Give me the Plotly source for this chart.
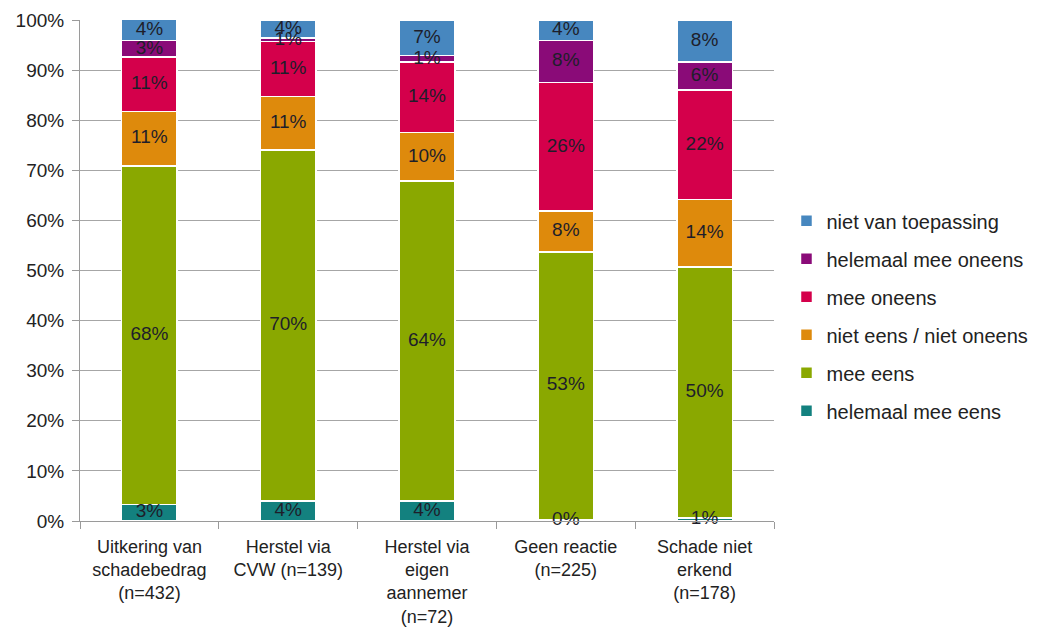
import plotly.graph_objects as go

categories = [
    "Uitkering van<br>schadebedrag<br>(n=432)",
    "Herstel via<br>CVW (n=139)",
    "Herstel via<br>eigen<br>aannemer<br>(n=72)",
    "Geen reactie<br>(n=225)",
    "Schade niet<br>erkend<br>(n=178)",
]

# stacked from bottom to top, in percent
helemaal_mee_eens = [3.3, 4.0, 4.0, 0.3, 0.6]
mee_eens = [67.6, 70.1, 63.9, 53.4, 50.1]
niet_eens_niet_oneens = [10.8, 10.6, 9.6, 8.2, 13.5]
mee_oneens = [10.9, 11.0, 14.1, 25.6, 21.8]
helemaal_mee_oneens = [3.3, 0.7, 1.3, 8.4, 5.6]
niet_van_toepassing = [4.2, 3.6, 7.1, 4.1, 8.4]

y_ticks = [0, 10, 20, 30, 40, 50, 60, 70, 80, 90, 100]

series = [
    ("helemaal mee eens", helemaal_mee_eens, "#13817f"),
    ("mee eens", mee_eens, "#8aa800"),
    ("niet eens / niet oneens", niet_eens_niet_oneens, "#de8a0c"),
    ("mee oneens", mee_oneens, "#d4004b"),
    ("helemaal mee oneens", helemaal_mee_oneens, "#8a0b78"),
    ("niet van toepassing", niet_van_toepassing, "#4787bf"),
]

fig = go.Figure()

base = [0.0] * len(categories)
label_x, label_y, label_text = [], [], []
for i, (name, values, color) in enumerate(series):
    fig.add_trace(go.Bar(
        x=categories,
        y=values,
        name=name,
        legendgroup=str(i),
        legendrank=100 - i,
        marker=dict(color=color, line=dict(color="white", width=1.5)),
        hoverinfo="skip",
    ))
    # segment centres for the value labels, drawn on top of all bars
    for j, v in enumerate(values):
        label_x.append(categories[j])
        label_y.append(base[j] + v / 2)
        label_text.append(f"{v:.0f}%")
        base[j] += v

fig.add_trace(go.Scatter(
    x=label_x,
    y=label_y,
    text=label_text,
    mode="text",
    textposition="middle center",
    textfont=dict(family="Liberation Sans, Arial", size=19, color="#1e1e2a"),
    showlegend=False,
    cliponaxis=False,
    hoverinfo="skip",
))

# the page body adds an 8px offset, so margins are reduced by that much
fig.update_layout(
    barmode="stack",
    bargap=0.6,
    width=1037,
    height=629,
    margin=dict(l=72, r=271, t=12, b=116),
    plot_bgcolor="white",
    paper_bgcolor="white",
    font=dict(family="Liberation Sans, Arial", color="#222222"),
    showlegend=True,
    legend=dict(
        traceorder="grouped",
        tracegroupgap=9,
        x=1.018,
        xanchor="left",
        y=0.638,
        yanchor="top",
        font=dict(size=20, color="#222222"),
        itemwidth=30,
    ),
    xaxis=dict(
        automargin=False,
        showline=True,
        linecolor="#9a9a9a",
        linewidth=1,
        ticks="outside",
        tickson="boundaries",
        ticklen=7,
        tickcolor="#9a9a9a",
        ticklabelstandoff=9,
        tickfont=dict(family="Liberation Sans, Arial", size=18, color="#222222"),
    ),
    yaxis=dict(
        automargin=False,
        range=[0, 100],
        tickmode="array",
        tickvals=y_ticks,
        ticktext=[f"{t}%" for t in y_ticks],
        showgrid=True,
        gridcolor="#a6a6a6",
        gridwidth=1,
        showline=True,
        linecolor="#9a9a9a",
        ticks="outside",
        ticklen=7,
        tickcolor="#9a9a9a",
        ticklabelstandoff=4,
        tickfont=dict(size=19, color="#222222"),
        zeroline=False,
    ),
)

fig.write_html("out.html")
